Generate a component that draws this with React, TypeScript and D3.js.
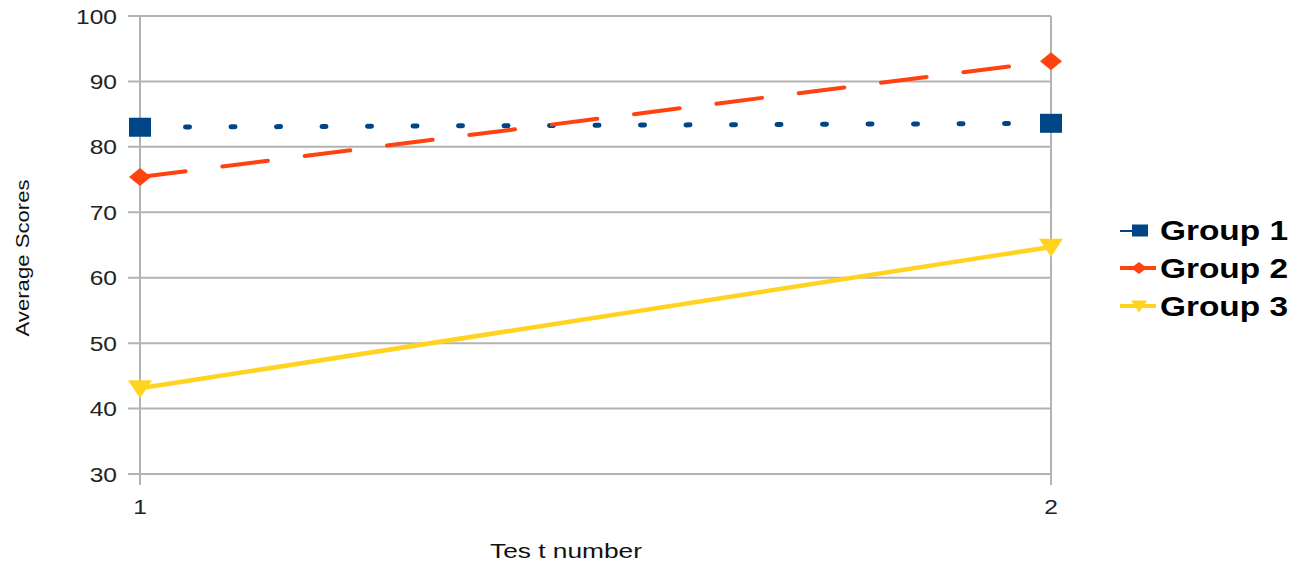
import React from "react";
import * as d3 from "d3";

const categories = [1, 2];
const group1 = [83.0, 83.6];
const group2 = [75.4, 93.1];
const group3 = [43.1, 64.7];
const yTicks = [30, 40, 50, 60, 70, 80, 90, 100];

const series = [
  { name: "Group 1", values: group1, color: "#004586", dash: "4 41.5", width: 5, marker: "square" },
  { name: "Group 2", values: group2, color: "#ff420e", dash: "46 37", width: 4, marker: "diamond" },
  { name: "Group 3", values: group3, color: "#ffd320", dash: "none", width: 4.5, marker: "triangle" },
];

function Marker({ type, x, y, color, w, h }: { type: string; x: number; y: number; color: string; w: number; h: number }) {
  if (type === "square") {
    return <rect x={x - w / 2} y={y - h / 2} width={w} height={h} fill={color} />;
  }
  if (type === "diamond") {
    const a = w / 2, b = h / 2;
    return <path d={`M${x - a},${y}L${x},${y - b}L${x + a},${y}L${x},${y + b}Z`} fill={color} />;
  }
  const a = w / 2;
  return <path d={`M${x - a},${y - h * 0.45}L${x + a},${y - h * 0.45}L${x},${y + h * 0.55}Z`} fill={color} />;
}

export default function App() {
  const W = 1304, H = 566;
  const x = d3.scaleLinear().domain([1, 2]).range([140, 1051]);
  const y = d3.scaleLinear().domain([30, 100]).range([474, 16]);
  const line = d3.line<number>().x((_, i) => x(categories[i])).y((d) => y(d));
  const font = "Arial, 'Liberation Sans', sans-serif";
  const sx = 1.17;

  return (
    <svg width={W} height={H} style={{ position: "absolute", left: 0, top: 0 }} fontFamily={font}>
      <rect width={W} height={H} fill="#fff" />
      {yTicks.map((t) => (
        <g key={t}>
          <line x1={128} x2={1051} y1={y(t)} y2={y(t)} stroke="#b3b3b3" strokeWidth={2} />
          <text transform={`translate(117,${y(t)}) scale(${sx},1)`} dy="0.36em" textAnchor="end" fontSize={21} fill="#222">{t}</text>
        </g>
      ))}
      {categories.map((c) => (
        <g key={c}>
          <line x1={x(c)} x2={x(c)} y1={16} y2={485} stroke="#b3b3b3" strokeWidth={2} />
          <text transform={`translate(${x(c)},506) scale(${sx},1)`} dy="0.36em" textAnchor="middle" fontSize={21} fill="#222">{c}</text>
        </g>
      ))}
      <text x={566} y={551} dy="0.36em" textAnchor="middle" fontSize={20} fill="#111"
        textLength={152} lengthAdjust="spacingAndGlyphs">Tes t number</text>
      <text transform="translate(22,258) rotate(-90)" textAnchor="middle" dy="0.36em" fontSize={19} fill="#111"
        textLength={157} lengthAdjust="spacingAndGlyphs">Average Scores</text>
      {series.map((s) => (
        <g key={s.name}>
          <path d={line(s.values) || ""} fill="none" stroke={s.color} strokeWidth={s.width}
            strokeDasharray={s.dash} strokeLinecap="round" />
          {s.values.map((v, i) => (
            <Marker key={i} type={s.marker} x={x(categories[i])} y={y(v)} color={s.color}
              w={s.marker === "triangle" ? 24 : 22} h={s.marker === "square" ? 19 : 18} />
          ))}
        </g>
      ))}
      {series.map((s, i) => {
        const ly = 230 + i * 38;
        return (
          <g key={s.name}>
            {i === 0 ? (
              <>
                <line x1={1120} x2={1134} y1={ly + 1} y2={ly + 1} stroke={s.color} strokeWidth={2} />
                <rect x={1132} y={ly - 5.5} width={16} height={12} fill={s.color} />
              </>
            ) : (
              <>
                <line x1={1120} x2={1156} y1={ly} y2={ly} stroke={s.color} strokeWidth={4} />
                <Marker type={s.marker} x={1139} y={ly} color={s.color} w={16} h={12} />
              </>
            )}
            <text x={1160} y={ly} dy="0.36em" fontSize={28} fontWeight="bold" fill="#000"
              textLength={128} lengthAdjust="spacingAndGlyphs">{s.name}</text>
          </g>
        );
      })}
    </svg>
  );
}
